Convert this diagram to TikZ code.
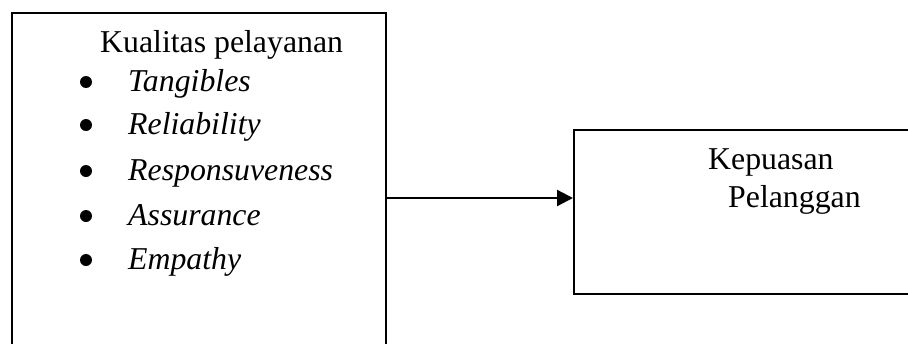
\documentclass[tikz,border=0pt]{standalone}
\usepackage{fontspec}
\setmainfont{Liberation Serif}
\usetikzlibrary{arrows.meta}
\begin{document}
\begin{tikzpicture}[x=1pt,y=-1pt,
  box/.style={draw=black, line width=2pt, rectangle, inner sep=0pt},
  txt/.style={anchor=base west, inner sep=0pt, font=\fontsize{31.8}{38}\selectfont},
  itm/.style={txt, font=\fontsize{31.8}{38}\selectfont\itshape},
  dotb/.style={fill=black}]
\useasboundingbox (0,0) rectangle (908,343);
\clip (0,0) rectangle (908,343);
\node[box, anchor=north west, minimum width=374pt, minimum height=370pt] (q) at (11,12) {};
\node[box, anchor=north west, minimum width=360pt, minimum height=164pt] (k) at (573,129) {};
\draw[line width=2.3pt, -{Triangle[length=16pt,width=16pt]}] (q.east) -- (q.east -| k.west);
\node[txt] (t0) at (100,52) {Kualitas pelayanan};
\node[itm] (t1) at (128,91) {Tangibles};
\node[itm] (t2) at (128,134) {Reliability};
\node[itm] (t3) at (128,180) {Responsuveness};
\node[itm] (t4) at (128,225) {Assurance};
\node[itm] (t5) at (128,269) {Empathy};
\foreach \yy in {91,134,180,225,269} \fill[dotb] (86,\yy-9) circle (6pt);
\node[txt] (k1) at (708,169) {Kepuasan};
\node[txt] (k2) at (728,207) {Pelanggan};
\end{tikzpicture}
\end{document}
